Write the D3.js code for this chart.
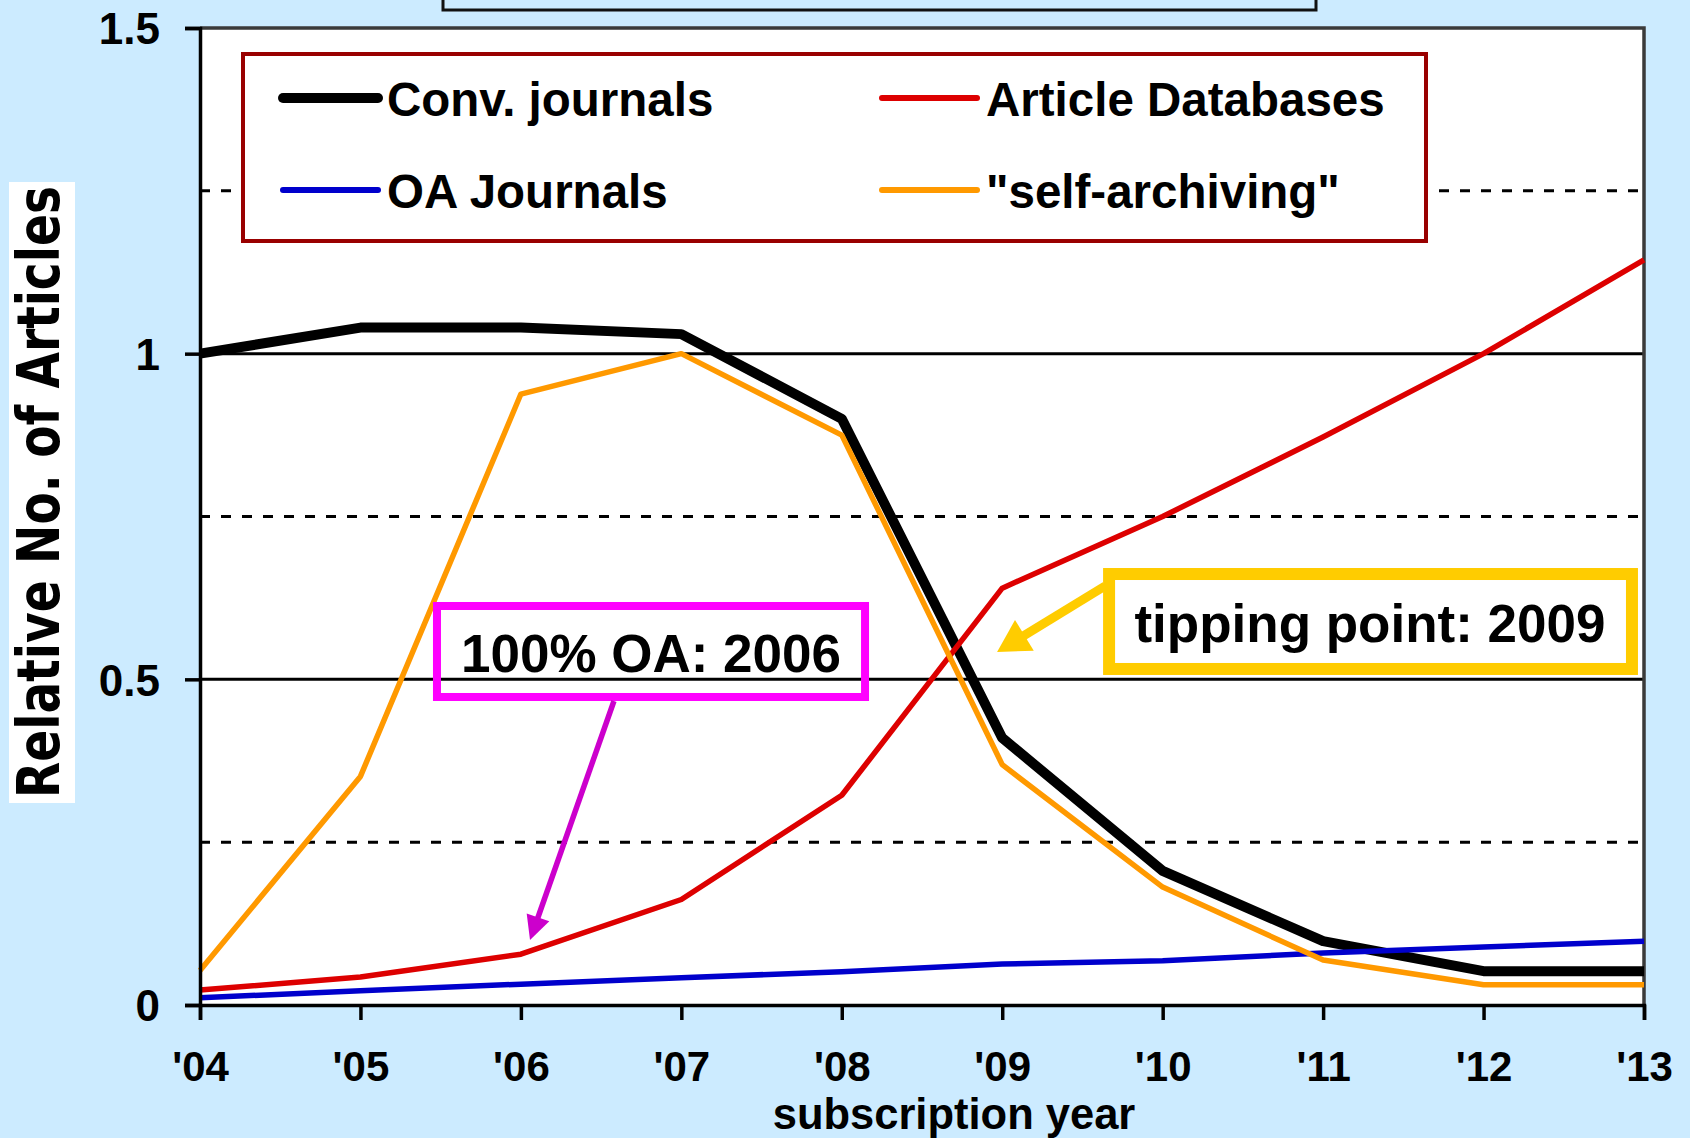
<!DOCTYPE html>
<html>
<head>
<meta charset="utf-8">
<script src="https://cdn.jsdelivr.net/npm/d3@7"></script>
<style>
  html, body { margin: 0; padding: 0; background: #CCEBFF; }
  svg { display: block; }
  text { font-family: "Liberation Sans", Arial, sans-serif; font-weight: bold; fill: #000; }
</style>
</head>
<body>
<svg id="chart" width="1690" height="1138"></svg>
<script>
// ---- data ----
const years = [2004, 2005, 2006, 2007, 2008, 2009, 2010, 2011, 2012, 2013];
const yearLabels = ["'04", "'05", "'06", "'07", "'08", "'09", "'10", "'11", "'12", "'13"];
const convJournals = [1.0, 1.04, 1.04, 1.03, 0.90, 0.41, 0.206, 0.098, 0.052, 0.052];
const articleDatabases = [0.023, 0.043, 0.078, 0.162, 0.322, 0.64, 0.75, 0.872, 1.0, 1.144];
const oaJournals = [0.011, 0.022, 0.032, 0.042, 0.051, 0.063, 0.068, 0.08, 0.089, 0.098];
const selfArchiving = [0.053, 0.351, 0.938, 1.0, 0.875, 0.369, 0.181, 0.069, 0.031, 0.031];
const seriesNames = ["Conv. journals", "Article Databases", "OA Journals", "\"self-archiving\""];
const yTicks = [0, 0.5, 1, 1.5];
const solidGrid = [0.5, 1];
const dashedGrid = [0.25, 0.75, 1.25];
const yTitle = "Relative No.  of  Articles";
const xTitle = "subscription year";
const note1 = "100% OA: 2006";
const note2 = "tipping point: 2009";

// ---- layout ----
const svg = d3.select("#chart");
const L = 200, R = 1644, T = 28, B = 1005;
const x = d3.scaleLinear().domain([2004, 2013]).range([L, R]);
const y = d3.scaleLinear().domain([0, 1.5]).range([B, T]);

// background
svg.append("rect").attr("width", 1690).attr("height", 1138).attr("fill", "#CCEBFF");
// top (cut-off) title box
svg.append("rect").attr("x", 443).attr("y", -20).attr("width", 873).attr("height", 30)
  .attr("fill", "#CCEBFF").attr("stroke", "#111").attr("stroke-width", 3);
// plot area
svg.append("rect").attr("x", L).attr("y", T).attr("width", R - L).attr("height", B - T).attr("fill", "#fff");

// gridlines
svg.append("g").selectAll("line").data(dashedGrid).join("line")
  .attr("x1", L).attr("x2", R).attr("y1", d => y(d)).attr("y2", d => y(d))
  .attr("stroke", "#000").attr("stroke-width", 3).attr("stroke-dasharray", "10,11");
svg.append("g").selectAll("line").data(solidGrid).join("line")
  .attr("x1", L).attr("x2", R).attr("y1", d => y(d)).attr("y2", d => y(d))
  .attr("stroke", "#000").attr("stroke-width", 3);

// frame top/right
svg.append("path").attr("d", `M${L},${T}H${R}V${B}`).attr("fill", "none")
  .attr("stroke", "#3a3a3a").attr("stroke-width", 3.5);

// series
const line = d3.line().x((d, i) => x(years[i])).y(d => y(d));
const series = [
  { v: convJournals, c: "#000000", w: 10 },
  { v: articleDatabases, c: "#DD0000", w: 5.5 },
  { v: oaJournals, c: "#0000CC", w: 5.5 },
  { v: selfArchiving, c: "#FF9900", w: 5.5 }
];
svg.append("g").selectAll("path").data(series).join("path")
  .attr("d", d => line(d.v)).attr("fill", "none")
  .attr("stroke", d => d.c).attr("stroke-width", d => d.w)
  .attr("stroke-linejoin", "round");

// axes
const yAxis = d3.axisLeft(y).tickValues(yTicks).tickSize(15).tickPadding(25).tickFormat(d3.format(""));
const gy = svg.append("g").attr("transform", `translate(${L},0)`).call(yAxis);
gy.select(".domain").attr("stroke", "#000").attr("stroke-width", 3.5);
gy.selectAll(".tick line").attr("stroke", "#000").attr("stroke-width", 3.5);
gy.selectAll(".tick text").attr("font-size", 44).attr("dy", "0.36em")
  .style("font-family", "'Liberation Sans', Arial, sans-serif").style("font-weight", "bold").attr("fill", "#000");

const xAxis = d3.axisBottom(x).tickValues(years).tickSize(15).tickFormat((d, i) => yearLabels[i]);
const gx = svg.append("g").attr("transform", `translate(0,${B})`).call(xAxis);
gx.select(".domain").attr("stroke", "#000").attr("stroke-width", 3.5);
gx.selectAll(".tick line").attr("stroke", "#000").attr("stroke-width", 3.5);
gx.selectAll(".tick text").attr("font-size", 42).attr("y", 76).attr("dy", 0)
  .style("font-family", "'Liberation Sans', Arial, sans-serif").style("font-weight", "bold").attr("fill", "#000");

// axis titles
svg.append("rect").attr("x", 9).attr("y", 182).attr("width", 66).attr("height", 621).attr("fill", "#fff");
svg.append("text").attr("transform", "translate(59,492) rotate(-90)")
  .attr("text-anchor", "middle").attr("font-size", 58)
  .attr("textLength", 612).attr("lengthAdjust", "spacingAndGlyphs")
  .style("font-family", "'DejaVu Sans', Verdana, sans-serif")
  .text(yTitle);
svg.append("text").attr("x", 954).attr("y", 1128.5).attr("text-anchor", "middle")
  .attr("font-size", 43.5).text(xTitle);

// legend
const lg = svg.append("g");
lg.append("rect").attr("x", 243).attr("y", 54).attr("width", 1183).attr("height", 187)
  .attr("fill", "#fff").attr("stroke", "#990000").attr("stroke-width", 4);
const legendItems = [
  { name: seriesNames[0], c: "#000000", w: 10, lx: 283, row: 0 },
  { name: seriesNames[1], c: "#DD0000", w: 6, lx: 882, row: 0 },
  { name: seriesNames[2], c: "#0000CC", w: 6, lx: 283, row: 1 },
  { name: seriesNames[3], c: "#FF9900", w: 6, lx: 882, row: 1 }
];
legendItems.forEach(d => {
  const ly = 98 + d.row * 92;
  lg.append("line").attr("x1", d.lx).attr("x2", d.lx + 95).attr("y1", ly).attr("y2", ly)
    .attr("stroke", d.c).attr("stroke-width", d.w).attr("stroke-linecap", "round");
  lg.append("text").attr("x", d.lx + 104).attr("y", ly + 18).attr("font-size", 47.5).text(d.name);
});

// annotations (positioned in data space)
function arrow(g, x0, y0, x1, y1, color, w, hl, hw) {
  const dx = x1 - x0, dy = y1 - y0, len = Math.hypot(dx, dy);
  const ux = dx / len, uy = dy / len, px = -uy, py = ux;
  const bx = x1 - ux * hl, by = y1 - uy * hl;
  g.append("line").attr("x1", x0).attr("y1", y0).attr("x2", bx + ux * 2).attr("y2", by + uy * 2)
    .attr("stroke", color).attr("stroke-width", w);
  g.append("path").attr("d", `M${x1},${y1}L${bx + px * hw / 2},${by + py * hw / 2}L${bx - px * hw / 2},${by - py * hw / 2}Z`)
    .attr("fill", color);
}
const an = svg.append("g");
// magenta note
an.append("rect").attr("x", x(2005.477)).attr("y", y(0.6126))
  .attr("width", x(2008.145) - x(2005.477)).attr("height", y(0.4729) - y(0.6126))
  .attr("fill", "none").attr("stroke", "#FF00FF").attr("stroke-width", 8);
an.append("text").attr("x", x(2006.811)).attr("y", y(0.5113)).attr("text-anchor", "middle")
  .attr("font-size", 53).text(note1);
arrow(an, x(2006.58), y(0.4667), x(2006.057), y(0.0998), "#CC00CC", 5.5, 24, 24);
// gold note
an.append("rect").attr("x", x(2009.666)).attr("y", y(0.6617))
  .attr("width", x(2012.925) - x(2009.666)).attr("height", y(0.5159) - y(0.6617))
  .attr("fill", "#fff").attr("stroke", "#FFCC00").attr("stroke-width", 12);
an.append("text").attr("x", x(2011.292)).attr("y", y(0.5573)).attr("text-anchor", "middle")
  .attr("font-size", 53).text(note2);
arrow(an, x(2009.641), y(0.6433), x(2008.968), y(0.542), "#FFCC00", 9, 32, 36);
</script>
</body>
</html>
